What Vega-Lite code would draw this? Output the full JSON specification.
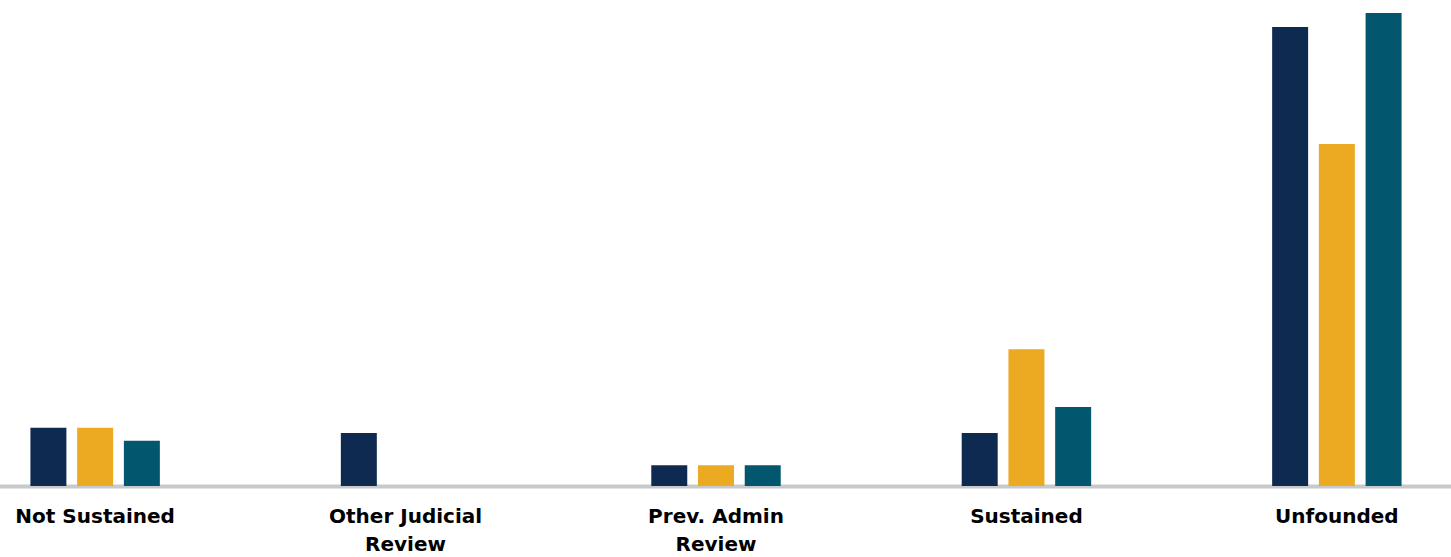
{
  "$schema": "https://vega.github.io/schema/vega-lite/v6.json",
  "width": 1451,
  "height": 486,
  "autosize": {"type": "none"},
  "padding": {"left": 0, "right": 0, "top": 0, "bottom": 71},
  "background": "white",
  "config": {"view": {"stroke": null}},
  "data": {
    "values": [
      {"category": "Not Sustained", "series": "Series 1", "value": 11.2},
      {"category": "Not Sustained", "series": "Series 2", "value": 11.2},
      {"category": "Not Sustained", "series": "Series 3", "value": 8.7},
      {"category": "Other Judicial Review", "series": "Series 1", "value": 10.2},
      {"category": "Other Judicial Review", "series": "Series 2", "value": 0},
      {"category": "Other Judicial Review", "series": "Series 3", "value": 0},
      {"category": "Prev. Admin Review", "series": "Series 1", "value": 4},
      {"category": "Prev. Admin Review", "series": "Series 2", "value": 4},
      {"category": "Prev. Admin Review", "series": "Series 3", "value": 4},
      {"category": "Sustained", "series": "Series 1", "value": 10.2},
      {"category": "Sustained", "series": "Series 2", "value": 26.3},
      {"category": "Sustained", "series": "Series 3", "value": 15.2},
      {"category": "Unfounded", "series": "Series 1", "value": 88.3},
      {"category": "Unfounded", "series": "Series 2", "value": 65.8},
      {"category": "Unfounded", "series": "Series 3", "value": 91}
    ]
  },
  "mark": {"type": "bar"},
  "encoding": {
    "x": {
      "field": "category",
      "type": "nominal",
      "sort": null,
      "scale": {"range": [-60, 1492], "paddingInner": 0.4325, "paddingOuter": 0.216},
      "axis": {
        "title": null,
        "labelAngle": 0,
        "ticks": false,
        "domainColor": "#C8C9CB",
        "domainWidth": 4,
        "labelFont": "DejaVu Sans",
        "labelFontWeight": "bold",
        "labelFontSize": 20,
        "labelColor": "#000000",
        "labelPadding": 20,
        "labelLineHeight": 28,
        "labelOverlap": false,
        "labelExpr": "datum.label === 'Other Judicial Review' ? ['Other Judicial', 'Review'] : datum.label === 'Prev. Admin Review' ? ['Prev. Admin', 'Review'] : datum.label"
      }
    },
    "xOffset": {
      "field": "series",
      "type": "nominal",
      "scale": {"paddingInner": 0.23, "paddingOuter": 0.5}
    },
    "y": {
      "field": "value",
      "type": "quantitative",
      "scale": {"domain": [0, 93.5], "nice": false},
      "axis": null
    },
    "color": {
      "field": "series",
      "type": "nominal",
      "scale": {"range": ["#0E2A50", "#EBAA22", "#02566D"]},
      "legend": null
    }
  }
}
